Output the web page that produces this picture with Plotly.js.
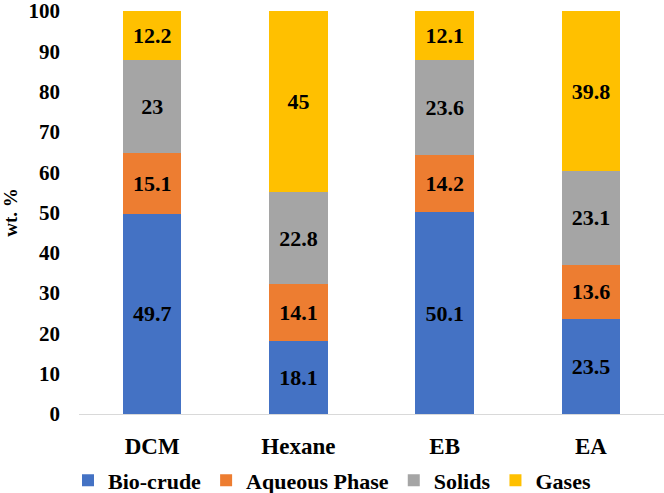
<!DOCTYPE html>
<html><head><meta charset="utf-8">
<script src="https://cdn.plot.ly/plotly-3.0.1.min.js"></script>
<style>html,body{margin:0;padding:0;background:#fff}</style>
</head><body>
<div id="chart" style="width:664px;height:493px"></div>
<script>
const categories = ["DCM", "Hexane", "EB", "EA"];
const bioCrude = [49.7, 18.1, 50.1, 23.5];
const aqueousPhase = [15.1, 14.1, 14.2, 13.6];
const solids = [23, 22.8, 23.6, 23.1];
const gases = [12.2, 45, 12.1, 39.8];
const yTicks = [0, 10, 20, 30, 40, 50, 60, 70, 80, 90, 100];

const fam = "Liberation Serif, Times New Roman, serif";
function mk(name, vals, color) {
  return {
    type: "bar", name: name, x: categories, y: vals,
    marker: {color: color},
    text: vals.map(String), textposition: "inside", insidetextanchor: "middle",
    textfont: {family: fam, size: 22, color: "#000", weight: "bold"},
    constraintext: "none",
    hoverinfo: "none"
  };
}
const data = [
  mk("Bio-crude", bioCrude, "#4472C4"),
  mk("Aqueous Phase", aqueousPhase, "#ED7D31"),
  mk("Solids", solids, "#A5A5A5"),
  mk("Gases", gases, "#FFC000")
];
const layout = {
  barmode: "stack", bargap: 0.6,
  width: 664, height: 493,
  margin: {l: 79, r: 0, t: 11, b: 79, autoexpand: false},
  paper_bgcolor: "#fff", plot_bgcolor: "#fff",
  font: {family: fam, size: 21, color: "#000"},
  showlegend: true,
  legend: {orientation: "h", xref: "container", x: 0.5, xanchor: "center", y: -0.165, yanchor: "middle",
           itemwidth: 30, tracegroupgap: 0,
           font: {family: fam, size: 22, color: "#000", weight: "bold"}, traceorder: "normal"},
  xaxis: {showgrid: false, showline: true, linecolor: "#d9d9d9", linewidth: 1, ticks: "",
          ticklabelstandoff: 11,
          tickfont: {family: fam, size: 23, color: "#000", weight: "bold"}},
  yaxis: {range: [0, 100.02], tickvals: yTicks, ticktext: yTicks.map(String), showgrid: false,
          showline: false, zeroline: false, ticks: "", ticklen: 0, automargin: false,
          ticklabelstandoff: 18, ticklabeloverflow: "allow",
          tickfont: {family: fam, size: 21, color: "#000", weight: "bold"},
          title: {text: "wt. %", standoff: 18, font: {family: fam, size: 19, color: "#000", weight: "bold"}}}
};
Plotly.newPlot("chart", data, layout, {displayModeBar: false, staticPlot: true});
</script>
</body></html>
